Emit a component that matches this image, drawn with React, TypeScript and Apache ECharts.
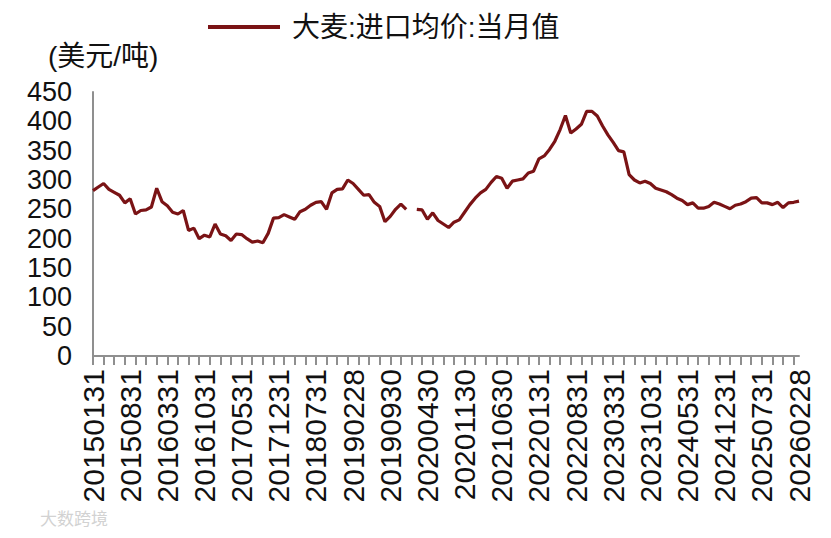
import React, { useEffect, useRef } from "react";
import * as echarts from "echarts";

// Month-end dates from 2015-01-31 to 2026-02-28
const startYear = 2015;
const monthCount = 134;
const categories: string[] = [];
for (let k = 0; k < monthCount; k++) {
  const y = startYear + Math.floor(k / 12);
  const m = (k % 12) + 1;
  const last = new Date(Date.UTC(y, m, 0)).getUTCDate();
  categories.push(`${y}${String(m).padStart(2, "0")}${String(last).padStart(2, "0")}`);
}

// 大麦:进口均价:当月值 (美元/吨)
const values2015 = [282, 288, 294, 284, 279, 274, 261, 268, 242, 248, 249, 254];
const values2016 = [286, 263, 256, 245, 242, 248, 214, 218, 200, 206, 203, 225];
const values2017 = [208, 205, 197, 208, 207, 200, 194, 196, 193, 209, 235, 236];
const values2018 = [241, 237, 233, 246, 250, 257, 262, 263, 250, 278, 284, 285];
const values2019 = [300, 294, 284, 274, 275, 262, 255, 229, 238, 250, 259, 250];
const values2020 = [null, 250, 249, 233, 244, 231, 225, 219, 228, 232, 245, 258];
const values2021 = [269, 278, 284, 296, 306, 303, 286, 298, 300, 302, 312, 315];
const values2022 = [336, 341, 352, 366, 386, 410, 380, 387, 395, 417, 417, 409];
const values2023 = [392, 377, 364, 350, 348, 309, 300, 295, 298, 294, 286, 283];
const values2024 = [280, 275, 269, 265, 258, 261, 252, 252, 255, 262, 259, 255];
const values2025 = [251, 257, 259, 263, 269, 270, 261, 261, 258, 262, 253, 261];
const values2026 = [262, 264];

const seriesValues: (number | null)[] = [
  ...values2015, ...values2016, ...values2017, ...values2018, ...values2019,
  ...values2020, ...values2021, ...values2022, ...values2023, ...values2024,
  ...values2025, ...values2026,
];

const seriesName = "大麦:进口均价:当月值";
const unitLabel = "(美元/吨)";
const watermark = "大数跨境";

const FONT = '"Liberation Sans", Arial, "Noto Sans CJK SC", sans-serif';
const LINE_COLOR = "#7a1315";

export default function App() {
  const ref = useRef<HTMLDivElement>(null);
  useEffect(() => {
    if (!ref.current) return;
    const chart = echarts.init(ref.current, null, { renderer: "svg" });
    chart.setOption({
      animation: false,
      backgroundColor: "#ffffff",
      textStyle: { fontFamily: FONT },
      legend: {
        show: true,
        left: 208,
        top: 13,
        padding: 0,
        icon: "rect",
        itemWidth: 72,
        itemHeight: 4,
        textStyle: { fontSize: 28, color: "#111", fontFamily: FONT, padding: [0, 0, 0, 7] },
        data: [seriesName],
      },
      grid: { left: 93, right: 32, top: 92, bottom: 182, containLabel: false },
      xAxis: {
        type: "category",
        data: categories,
        boundaryGap: false,
        axisLine: { show: true, lineStyle: { color: "#8f8f8f", width: 2 } },
        axisTick: { show: true, interval: 1, length: 9, lineStyle: { color: "#8f8f8f", width: 2 } },
        axisLabel: {
          interval: 6,
          rotate: 90,
          margin: 13,
          fontSize: 30,
          color: "#111",
          fontFamily: FONT,
        },
        splitLine: { show: false },
      },
      yAxis: {
        type: "value",
        min: 0,
        max: 450,
        interval: 50,
        axisLine: { show: true, lineStyle: { color: "#8f8f8f", width: 2 } },
        axisTick: { show: false },
        axisLabel: { margin: 21, fontSize: 27, color: "#111", fontFamily: FONT },
        splitLine: { show: false },
      },
      graphic: [
        {
          type: "text",
          left: 48,
          top: 42,
          style: { text: unitLabel, fontSize: 28, fill: "#111", fontFamily: FONT },
        },
        {
          type: "text",
          left: 40,
          top: 511,
          style: { text: watermark, fontSize: 17, fill: "#d2d2d2", fontFamily: FONT },
        },
      ],
      series: [
        {
          name: seriesName,
          type: "line",
          data: seriesValues,
          symbol: "none",
          connectNulls: false,
          lineStyle: { color: LINE_COLOR, width: 3.2 },
          itemStyle: { color: LINE_COLOR },
        },
      ],
    });
    return () => chart.dispose();
  }, []);
  return (
    <div
      ref={ref}
      style={{ position: "fixed", left: 0, top: 0, width: 831, height: 538 }}
    />
  );
}
